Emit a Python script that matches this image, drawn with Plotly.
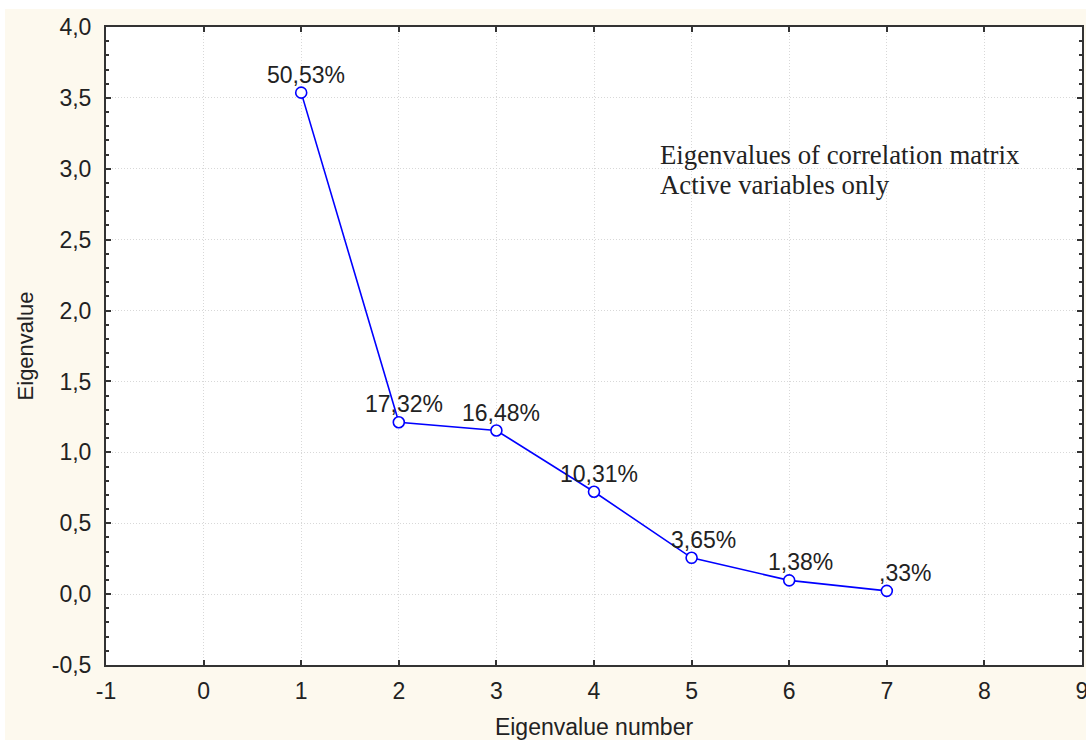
import plotly.graph_objects as go

# Scree plot data: eigenvalue number, eigenvalue, share of total variance
eig_number = [1, 2, 3, 4, 5, 6, 7]
eig_value = [3.537, 1.212, 1.154, 0.722, 0.256, 0.097, 0.023]
eig_pct_labels = ["50,53%", "17,32%", "16,48%", "10,31%", "3,65%", "1,38%", ",33%"]

x_tick_vals = [-1, 0, 1, 2, 3, 4, 5, 6, 7, 8, 9]
x_tick_text = ["-1", "0", "1", "2", "3", "4", "5", "6", "7", "8", "9"]
y_tick_vals = [-0.5, 0.0, 0.5, 1.0, 1.5, 2.0, 2.5, 3.0, 3.5, 4.0]
y_tick_text = ["-0,5", "0,0", "0,5", "1,0", "1,5", "2,0", "2,5", "3,0", "3,5", "4,0"]

info_lines = ["Eigenvalues of correlation matrix", "Active variables only"]

SANS = "Liberation Sans, Arial, sans-serif"
SERIF = "Liberation Serif, Times New Roman, serif"
CREAM = "#FDF9EE"
INK = "#222222"
AXIS = "#333333"
GRID = "#D8D8D8"

W, H = 1086, 740
ML, MR, MT, MB = 106, 4, 27, 75

fig = go.Figure()
fig.add_trace(go.Scatter(
    x=eig_number, y=eig_value, mode="lines+markers",
    line=dict(color="#0000FF", width=1.6),
    marker=dict(symbol="circle", size=11, color="white",
                line=dict(color="#0000FF", width=1.6)),
    hoverinfo="x+y", showlegend=False,
))

annotations = []
for xv, yv, txt in zip(eig_number, eig_value, eig_pct_labels):
    annotations.append(dict(
        x=xv, y=yv, xref="x", yref="y", text=txt, showarrow=False,
        xanchor="right", yanchor="bottom", xshift=46, yshift=3,
        font=dict(family=SANS, size=23, color=INK),
    ))

plot_w = W - ML - MR
plot_h = H - MT - MB
for i, line in enumerate(info_lines):
    annotations.append(dict(
        x=(658 - ML) / plot_w, y=(H - MB - (155 + 30 * i)) / plot_h,
        xref="paper", yref="paper", text=line, showarrow=False,
        xanchor="left", yanchor="middle",
        font=dict(family=SERIF, size=26.8, color=INK),
    ))

# white strips framing the cream page background
shapes = [
    dict(type="rect", xref="paper", yref="paper", layer="above",
         x0=-ML / plot_w, x1=(W - ML) / plot_w,
         y0=(H - MB - 9) / plot_h, y1=(H - MB) / plot_h,
         fillcolor="white", line=dict(width=0)),
    dict(type="rect", xref="paper", yref="paper", layer="above",
         x0=-ML / plot_w, x1=(5 - ML) / plot_w,
         y0=-MB / plot_h, y1=(H - MB) / plot_h,
         fillcolor="white", line=dict(width=0)),
]

fig.update_layout(
    width=W, height=H,
    margin=dict(l=ML, r=MR, t=MT, b=MB, autoexpand=False),
    paper_bgcolor=CREAM, plot_bgcolor="white",
    annotations=annotations, shapes=shapes,
    font=dict(family=SANS, color=INK),
)

fig.update_xaxes(
    range=[-1, 9], tickmode="array", tickvals=x_tick_vals, ticktext=x_tick_text,
    ticks="inside", ticklen=5, tickwidth=1.5, tickcolor=AXIS,
    showline=True, linecolor=AXIS, linewidth=2, mirror="ticks",
    showgrid=True, gridcolor=GRID, griddash="1px,2px", gridwidth=1,
    zeroline=False, tickfont=dict(family=SANS, size=23, color=INK),
    ticklabeloverflow="allow", ticklabelstandoff=4, automargin=False,
    title=dict(text="Eigenvalue number", font=dict(family=SANS, size=23, color=INK), standoff=20),
)
fig.update_yaxes(
    range=[-0.5, 4.0], tickmode="array", tickvals=y_tick_vals, ticktext=y_tick_text,
    ticks="inside", ticklen=5, tickwidth=1.5, tickcolor=AXIS,
    minor=dict(ticks="inside", dtick=0.1, tick0=0, ticklen=3, tickwidth=1.5,
               tickcolor=AXIS, showgrid=False),
    showline=True, linecolor=AXIS, linewidth=2, mirror="ticks",
    showgrid=True, gridcolor=GRID, griddash="1px,2px", gridwidth=1,
    zeroline=False, tickfont=dict(family=SANS, size=23, color=INK),
    ticklabelstandoff=8, ticklabeloverflow="allow", automargin=False,
    title=dict(text="Eigenvalue", font=dict(family=SANS, size=22, color=INK), standoff=12),
)

fig.write_html("out.html")
